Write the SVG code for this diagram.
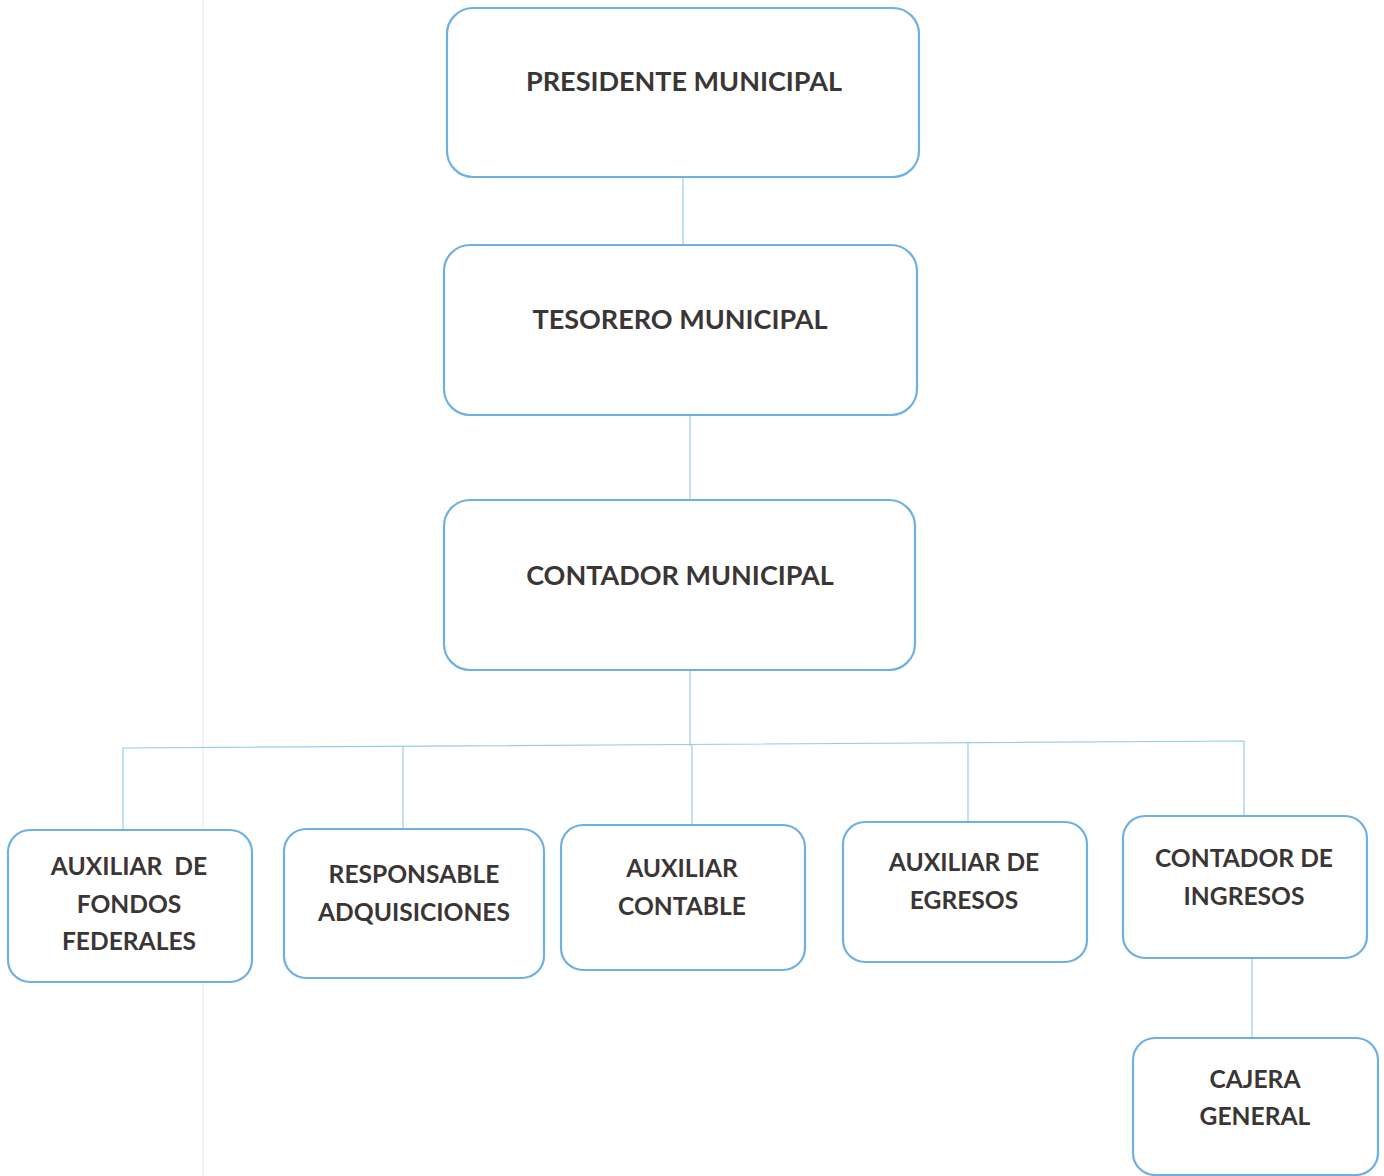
<svg xmlns="http://www.w3.org/2000/svg" width="1384" height="1176" viewBox="0 0 1384 1176">
<style>
.box{fill:#fff;stroke:#6fb0e4;stroke-width:2.2}
.lbl{font-family:Lato,"Open Sans","Liberation Sans",sans-serif;font-weight:bold;font-size:24.6px;fill:#3b3636;text-anchor:middle;white-space:pre}
.big{font-size:27px}
.con{stroke:#9ccbea;stroke-width:1.2;fill:none}
</style>
<rect width="1384" height="1176" fill="#fff"/>
<line x1="203" y1="0" x2="203" y2="1176" stroke="#efefef" stroke-width="1.5"/>
<g id="connectors">
<line class="con" x1="683" y1="177" x2="683" y2="245"/>
<line class="con" x1="690" y1="415" x2="690" y2="500"/>
<line class="con" x1="690" y1="670" x2="690" y2="746"/>
<path class="con" d="M123 830 V748 L1244 741 V817"/>
<line class="con" x1="403" y1="747" x2="403" y2="829"/>
<line class="con" x1="692" y1="745" x2="692" y2="825"/>
<line class="con" x1="968" y1="743" x2="968" y2="822"/>
<line class="con" x1="1252" y1="958" x2="1252" y2="1038"/>
</g>
<g id="presidente">
<rect class="box" x="447" y="8" width="472" height="169" rx="26"/>
<text class="lbl big" x="684" y="91">PRESIDENTE MUNICIPAL</text>
</g>
<g id="tesorero">
<rect class="box" x="444" y="245" width="473" height="170" rx="26"/>
<text class="lbl big" x="680" y="329">TESORERO MUNICIPAL</text>
</g>
<g id="contador">
<rect class="box" x="444" y="500" width="471" height="170" rx="26"/>
<text class="lbl big" x="680" y="585">CONTADOR MUNICIPAL</text>
</g>
<g id="aux-fondos">
<rect class="box" x="8" y="830" width="244" height="152" rx="22"/>
<text class="lbl" x="129" y="875" xml:space="preserve">AUXILIAR  DE</text>
<text class="lbl" x="129" y="913">FONDOS</text>
<text class="lbl" x="129" y="950">FEDERALES</text>
</g>
<g id="responsable">
<rect class="box" x="284" y="829" width="260" height="149" rx="22"/>
<text class="lbl" x="414" y="883">RESPONSABLE</text>
<text class="lbl" x="414" y="921">ADQUISICIONES</text>
</g>
<g id="aux-contable">
<rect class="box" x="561" y="825" width="244" height="145" rx="22"/>
<text class="lbl" x="682" y="877">AUXILIAR</text>
<text class="lbl" x="682" y="915">CONTABLE</text>
</g>
<g id="aux-egresos">
<rect class="box" x="843" y="822" width="244" height="140" rx="22"/>
<text class="lbl" x="964" y="871">AUXILIAR DE</text>
<text class="lbl" x="964" y="909">EGRESOS</text>
</g>
<g id="contador-ingresos">
<rect class="box" x="1123" y="816" width="244" height="142" rx="22"/>
<text class="lbl" x="1244" y="867">CONTADOR DE</text>
<text class="lbl" x="1244" y="905">INGRESOS</text>
</g>
<g id="cajera">
<rect class="box" x="1133" y="1038" width="245" height="137" rx="22"/>
<text class="lbl" x="1255" y="1088">CAJERA</text>
<text class="lbl" x="1255" y="1125">GENERAL</text>
</g>
</svg>
